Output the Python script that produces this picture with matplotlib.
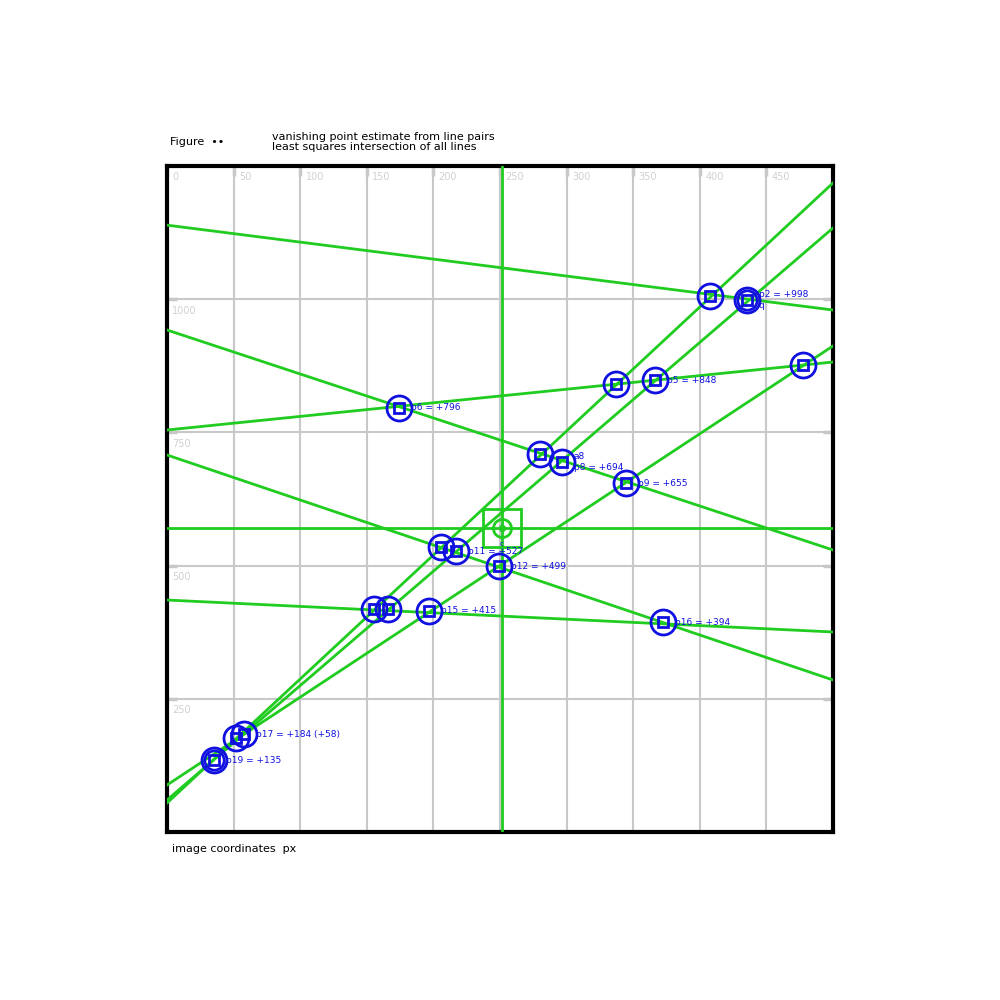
import numpy as np
import matplotlib
matplotlib.use('Agg')
import matplotlib.pyplot as plt

# points (data units), blue circle + square markers
px = [407.7, 435.4, 477.5, 337.1, 366.4, 174.2, 280.0, 296.5, 344.6, 205.7,
      217.0, 249.2, 155.4, 165.9, 196.7, 372.4, 57.8, 51.8, 35.3]
py = [1006.0, 998.5, 876.5, 840.8, 848.3, 795.8, 709.5, 694.4, 655.0, 534.9,
      527.4, 499.2, 418.5, 418.5, 414.8, 394.1, 183.9, 176.4, 135.1]
plabels = ['', 'p2 = +998\nq', '', '', 'p5 = +848', 'p6 = +796', '',
           'a8\np8 = +694', 'p9 = +655', '', 'p11 = +527', 'p12 = +499', '', '',
           'p15 = +415', 'p16 = +394', 'p17 = +184 (+58)', '', 'p19 = +135']
double = [1, 18]

# lines: y at left edge (x=0) and right edge (x=500)
line_y0 = [1139.0, 754.5, 942.2, 707.6, 435.4, 54.4, 60.1, 88.2]
line_y1 = [979.7, 882.1, 529.3, 285.3, 375.4, 1218.1, 1133.6, 912.2]

# centre cross
cx, cy = 251.5, 570.6

xticks = [0, 50, 100, 150, 200, 250, 300, 350, 400, 450]
yticks = [250, 500, 750, 1000]

green = '#1fcc1f'
blue = '#1010e0'
grey = '#c8c8c8'

fig = plt.figure(figsize=(10, 10), dpi=100)
ax = fig.add_axes([0.167, 0.168, 0.666, 0.666])
ax.set_xlim(0, 500)
ax.set_ylim(0, 1250)

for x in xticks[1:]:
    ax.axvline(x, color=grey, lw=1.5, zorder=1)
for y in yticks:
    ax.axhline(y, color=grey, lw=1.5, zorder=1)

ax.set_xticks(xticks)
ax.set_yticks(yticks)
ax.tick_params(direction='in', length=7, width=2.5, color=grey,
               top=True, right=True, bottom=False, labelbottom=False, labelleft=False)
for x in xticks:
    ax.text(x + 4, 1238, str(x), color='#d0d0d0', fontsize=7, va='top', ha='left', zorder=2)
for y in yticks:
    ax.text(4, y - 12, str(y), color='#d0d0d0', fontsize=7, va='top', ha='left', zorder=2)

for a, b in zip(line_y0, line_y1):
    ax.plot([0, 500], [a, b], color=green, lw=2, zorder=3)
ax.axvline(cx, color=green, lw=2, zorder=3)
ax.axhline(cy, color=green, lw=2, zorder=3)
ax.plot(cx, cy, marker='s', ms=28, mfc='none', mec=green, mew=2, zorder=4)
ax.plot(cx, cy, marker='o', ms=13, mfc='none', mec=green, mew=2, zorder=4)
ax.plot(cx, cy, marker='o', ms=4, mfc='none', mec=green, mew=1.2, zorder=4)
ax.text(cx, cy - 24, 'c', color=blue, fontsize=5, ha='center', va='top', zorder=5)

ax.plot(px, py, 'o', ms=18, mfc='none', mec=blue, mew=2, zorder=5)
ax.plot(px, py, 's', ms=7, mfc='none', mec=blue, mew=2, zorder=5)
ax.plot([px[i] for i in double], [py[i] for i in double], 'o', ms=14,
        mfc='none', mec=blue, mew=2, zorder=5)
for x, y, t in zip(px, py, plabels):
    if t:
        ax.text(x + 9, y, t, color=blue, fontsize=6.5, va='center', ha='left', zorder=6)

for s in ax.spines.values():
    s.set_linewidth(3)
    s.set_color('black')

fig.text(0.170, 0.858, 'Figure  \u2022\u2022', fontsize=8, ha='left', va='center')
fig.text(0.272, 0.858, 'vanishing point estimate from line pairs\nleast squares intersection of all lines',
         fontsize=8, ha='left', va='center', linespacing=0.9)
fig.text(0.172, 0.151, 'image coordinates  px', fontsize=8, ha='left', va='center')

fig.savefig('out.png', dpi=100)
